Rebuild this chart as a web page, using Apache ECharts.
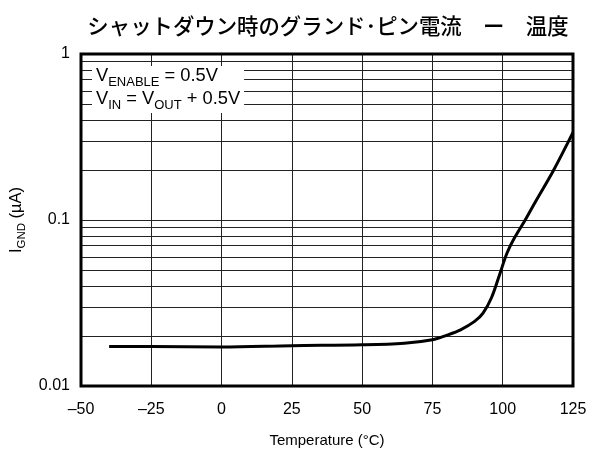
<!DOCTYPE html>
<html>
<head>
<meta charset="utf-8">
<script src="https://cdn.jsdelivr.net/npm/echarts@6/dist/echarts.min.js"></script>
<style>html,body{margin:0;padding:0;background:#fff;}#c{width:590px;height:450px;}</style>
</head>
<body>
<div id="c"></div>
<script>
const temps = [-40, -25, 0, 25, 50, 65, 75, 80, 85, 90, 93, 96, 99, 101.5, 104, 108, 112, 118, 125];
const ignd = [0.0173, 0.0173, 0.0172, 0.0175, 0.0177, 0.0181, 0.019, 0.0202, 0.0218, 0.0245, 0.0275, 0.034, 0.0475, 0.063, 0.077, 0.1, 0.132, 0.198, 0.337];
const yTickLabels = ['0.01', '0.1', '1'];
const minorY = [0.02, 0.03, 0.04, 0.05, 0.06, 0.07, 0.08, 0.09, 0.2, 0.3, 0.4, 0.5, 0.6, 0.7, 0.8, 0.9];

const chart = echarts.init(document.getElementById('c'));
const base = 'Liberation Sans, Arial, Helvetica, sans-serif';
chart.setOption({
  animation: false,
  backgroundColor: '#fff',
  title: [
    {
      text: 'シャットダウン時のグランド･ピン電流　ー　温度',
      left: 323, top: 10, textAlign: 'center',
      textStyle: { fontFamily: 'Noto Sans CJK JP', fontSize: 21.4, fontWeight: 500, color: '#000' }
    },
    {
      text: '{v|V}{s|ENABLE}{v| = 0.5V}\n{v|V}{s|IN}{v| = V}{s|OUT}{v| + 0.5V}',
      left: 92, top: 61,
      backgroundColor: '#fff',
      padding: [1, 4, 1, 4],
      textStyle: {
        fontWeight: 'normal',
        rich: {
          v: { fontFamily: base, fontSize: 18.3, fontWeight: 'normal', color: '#000', lineHeight: 23, verticalAlign: 'bottom' },
          s: { fontFamily: base, fontSize: 13, fontWeight: 'normal', color: '#000', lineHeight: 23, verticalAlign: 'bottom', padding: [0, 0, -4, 0] }
        }
      }
    }
  ],
  grid: { left: 81, right: 17, top: 54, bottom: 64, outerBoundsMode: 'none', containLabel: false, show: true, borderColor: '#000', borderWidth: 3, backgroundColor: 'transparent', z: 10 },
  xAxis: {
    type: 'value', min: -50, max: 125, interval: 25,
    name: 'Temperature (°C)', nameLocation: 'middle', nameGap: 47,
    nameTextStyle: { fontFamily: base, fontSize: 15, color: '#000' },
    axisLine: { show: false }, axisTick: { show: false },
    axisLabel: { fontFamily: base, fontSize: 16, color: '#000', margin: 16,
      formatter: v => String(v).replace('-', '–') },
    splitLine: { show: true, lineStyle: { color: '#222', width: 1 } }
  },
  yAxis: {
    type: 'log', logBase: 10, min: 0.01, max: 1,
    name: '{v|I}{s|GND}{v| (µA)}', nameLocation: 'middle', nameGap: 55, nameRotate: 90,
    nameTextStyle: {
      rich: {
        v: { fontFamily: base, fontSize: 16.5, color: '#000', lineHeight: 20, verticalAlign: 'bottom' },
        s: { fontFamily: base, fontSize: 11.5, color: '#000', lineHeight: 20, verticalAlign: 'bottom', padding: [0, 0, -3, 0] }
      }
    },
    axisLine: { show: false }, axisTick: { show: false },
    axisLabel: { fontFamily: base, fontSize: 16, color: '#000', margin: 11,
      formatter: (v, i) => yTickLabels[i] },
    splitLine: { show: true, lineStyle: { color: '#222', width: 1 } }
  },
  series: [{
    type: 'line',
    data: temps.map((t, i) => [t, ignd[i]]),
    smooth: 0.35,
    showSymbol: false,
    lineStyle: { color: '#000', width: 3 },
    z: 5,
    markLine: {
      silent: true, symbol: 'none', animation: false,
      label: { show: false },
      lineStyle: { color: '#222', width: 1, type: 'solid' },
      data: minorY.map(y => ({ yAxis: y }))
    }
  }]
});
</script>
</body>
</html>
